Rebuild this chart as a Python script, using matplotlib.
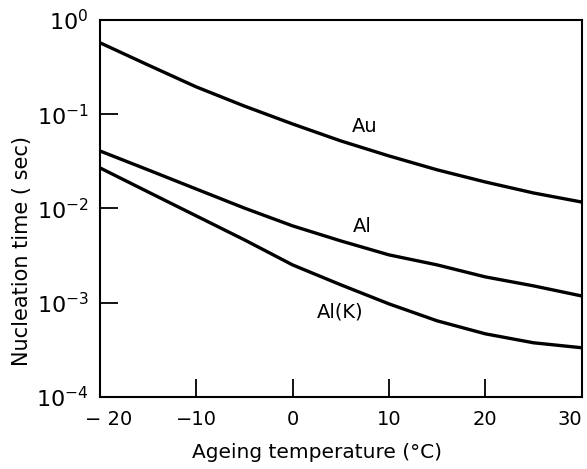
import matplotlib
matplotlib.use("Agg")
import matplotlib.pyplot as plt
import matplotlib.transforms as mtransforms
import numpy as np

# ageing temperature (deg C)
temps = [-20, -15, -10, -5, 0, 5, 10, 15, 20, 25, 30]

# nucleation time (sec)
au = [0.574, 0.333, 0.195, 0.122, 0.0788, 0.0521, 0.0361, 0.0257, 0.0191, 0.0146, 0.0117]
al = [0.0408, 0.0257, 0.0161, 0.0101, 0.00654, 0.00453, 0.00322, 0.00252, 0.00188, 0.00151, 0.00118]
al_k = [0.0270, 0.0150, 0.00835, 0.00465, 0.00252, 0.00155, 0.000973, 0.000643, 0.000468, 0.000376, 0.000333]

x_ticks = [-20, -10, 0, 10, 20, 30]
x_tick_labels = ["\u2212 20", "\u221210", "0", "10", "20", "30"]
y_ticks = [1e0, 1e-1, 1e-2, 1e-3, 1e-4]
y_tick_labels = [r"$10^{0}$", r"$10^{-1}$", r"$10^{-2}$", r"$10^{-3}$", r"$10^{-4}$"]

plt.rcParams['font.family'] = ['DejaVu Sans']
plt.rcParams['mathtext.fontset'] = 'dejavusans'

fig = plt.figure(figsize=(5.87, 4.69), dpi=100)
ax = fig.add_axes([0.170, 0.1535, 0.821, 0.804])

for series in (au, al, al_k):
    ax.plot(temps, series, color='black', linewidth=2.4, solid_capstyle='butt')

ax.set_yscale('log')
ax.set_xlim(-20, 30)
ax.set_ylim(1e-4, 1e0)

ax.set_xticks(x_ticks)
ax.set_xticklabels(x_tick_labels, fontsize=14)
ax.set_yticks(y_ticks)
ax.set_yticklabels(y_tick_labels, fontsize=16)
ax.yaxis.set_minor_locator(matplotlib.ticker.NullLocator())
ax.tick_params(axis='both', direction='in', length=13, width=1.3, color='black')
ax.tick_params(axis='x', pad=9)
ax.tick_params(axis='y', pad=8)

# shift the end labels a little, like in the original
xl = ax.get_xticklabels()
shift = mtransforms.ScaledTranslation(9 / 100, 0, fig.dpi_scale_trans)
xl[0].set_transform(xl[0].get_transform() + shift)
xl[-1].set_horizontalalignment('right')

for sp in ax.spines.values():
    sp.set_linewidth(1.5)

ax.text(7.5, 0.0733, "Au", fontsize=14, ha='center', va='center')
ax.text(7.2, 0.00638, "Al", fontsize=14, ha='center', va='center')
ax.text(4.9, 0.0008, "Al(K)", fontsize=14, ha='center', va='center')

fig.text(317 / 587, 1 - 452 / 469, "Ageing temperature (\u00b0C)", fontsize=14.5,
         ha='center', va='center')
fig.text(22 / 587, 1 - 251 / 469, "Nucleation time ( sec)", fontsize=15,
         ha='center', va='center', rotation=90)

fig.savefig("out.png", dpi=100)
